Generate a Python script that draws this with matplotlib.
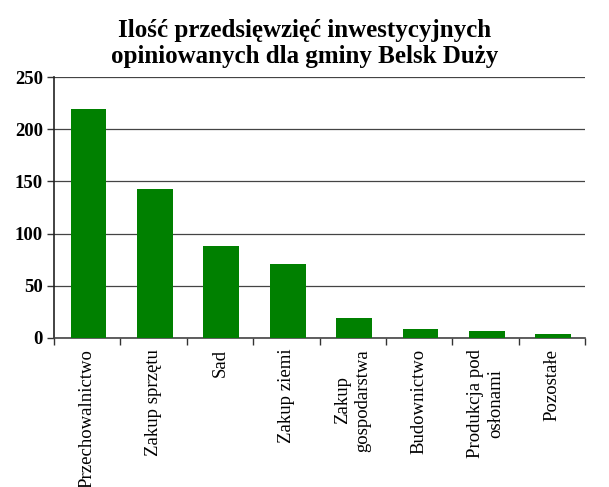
import numpy as np
import matplotlib.pyplot as plt

categories = ["Przechowalnictwo", "Zakup sprzętu", "Sad", "Zakup ziemi",
              "Zakup\ngospodarstwa", "Budownictwo", "Produkcja pod\nosłonami", "Pozostałe"]
values = [220, 143, 88, 71, 19, 8, 6, 4]
y_ticks = [0, 50, 100, 150, 200, 250]
title = "Ilość przedsięwzięć inwestycyjnych\nopiniowanych dla gminy Belsk Duży"

plt.rcParams["font.family"] = ["Liberation Serif", "DejaVu Serif"]

fig = plt.figure(figsize=(6.09, 4.87), dpi=100)
ax = fig.add_axes([0.0887, 0.3066, 0.872, 0.5347])

x = np.arange(len(categories))
ax.bar(x + 0.02, values, width=0.54, color="#008000", zorder=3)

ax.set_xlim(-0.5, len(categories) - 0.5)
ax.set_ylim(0, 250)
ax.set_yticks(y_ticks)
ax.set_yticklabels([str(v) for v in y_ticks], fontsize=13.5, fontweight="bold")
ax.yaxis.grid(True, color="#444444", linewidth=0.9, zorder=0)

ax.set_xticks(x)
ax.set_xticklabels(categories, rotation=90, fontsize=13.5, multialignment="center")
ax.tick_params(axis="x", which="major", length=0, pad=8)
ax.set_xticks(np.arange(len(categories) + 1) - 0.5, minor=True)
ax.tick_params(axis="x", which="minor", length=5, width=1, color="#333333")
ax.tick_params(axis="y", length=5, width=1, color="#333333", pad=3)

for side in ["top", "right"]:
    ax.spines[side].set_visible(False)
ax.spines["left"].set_color("#222222")
ax.spines["bottom"].set_color("#444444")
ax.spines["left"].set_linewidth(1.2)
ax.spines["bottom"].set_linewidth(1.2)

fig.text(0.5, 0.962, title, ha="center", va="top", fontsize=18, fontweight="bold",
         linespacing=1.2)

fig.savefig("out.png", dpi=100)
